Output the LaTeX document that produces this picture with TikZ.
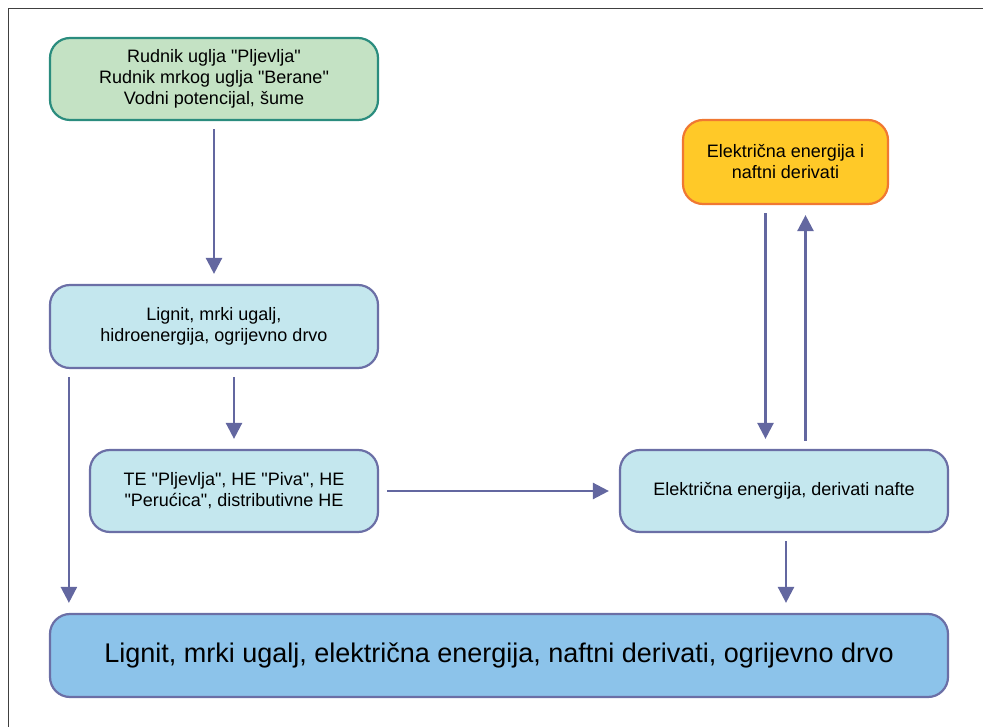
\documentclass[tikz,border=0pt]{standalone}
\usepackage{fontspec}
\setmainfont{Liberation Sans}[Ligatures=TeXOff]
\usepackage{xcolor}
\usetikzlibrary{positioning,calc,arrows.meta}

\definecolor{srcfill}{HTML}{C4E2C4}
\definecolor{srcline}{HTML}{2A8C7E}
\definecolor{impfill}{HTML}{FFC928}
\definecolor{impline}{HTML}{F07832}
\definecolor{boxfill}{HTML}{C4E7EE}
\definecolor{boxline}{HTML}{6B6FA6}
\definecolor{endfill}{HTML}{8CC3EA}
\definecolor{flowcol}{HTML}{6367A0}

\tikzset{
  block/.style={rectangle, rounded corners=20pt, line width=2.2pt, draw=boxline, fill=boxfill,
    align=center, inner sep=0pt, font=\fontsize{18}{21}\selectfont},
  flow/.style={-{Triangle[length=16pt,width=16pt]}, line width=2.5pt, draw=flowcol,
    shorten <=8pt, shorten >=10pt}
}

\begin{document}
\begin{tikzpicture}[x=1pt,y=-1pt]
    \useasboundingbox (0,0) rectangle (983,727);

    % Frame
    \draw[black!75, line width=1pt] (983,9) -- (8,9) -- (8,727);

    % Boxes
    \node [block, draw=srcline, fill=srcfill, minimum width=328pt, minimum height=82pt] (izvori) at (214,79)
        {Rudnik uglja "Pljevlja"\\Rudnik mrkog uglja "Berane"\\Vodni potencijal, šume};
    \node [block, draw=impline, fill=impfill, minimum width=205pt, minimum height=84pt] (uvoz) at (785.5,162)
        {Električna energija i\\naftni derivati};
    \node [block, minimum width=328pt, minimum height=83pt] (primarna) at (214,326.5)
        {Lignit, mrki ugalj,\\hidroenergija, ogrijevno drvo};
    \node [block, minimum width=288pt, minimum height=82pt] (postrojenja) at (234,491)
        {TE "Pljevlja", HE "Piva", HE\\"Perućica", distributivne HE};
    \node [block, minimum width=328pt, minimum height=82pt] (sekundarna) at (784,491)
        {Električna energija, derivati nafte};
    \node [block, fill=endfill, minimum width=898pt, minimum height=83pt,
        font=\fontsize{27}{32}\selectfont] (potrosnja) at (499,655.5)
        {Lignit, mrki ugalj, električna energija, naftni derivati, ogrijevno drvo};

    % Arrows
    \draw [flow] (izvori.south) -- (primarna.north);
    \draw [flow] (postrojenja.north |- primarna.south) -- (postrojenja.north);
    \draw [flow] ([xshift=20pt]primarna.south west) -- ([xshift=20pt]primarna.south west |- potrosnja.north);
    \draw [flow] (postrojenja.east) -- (sekundarna.west);
    \draw [flow] ([xshift=-20pt]uvoz.south) -- ([xshift=-20pt]uvoz.south |- sekundarna.north);
    \draw [flow] ([xshift=20pt]uvoz.south |- sekundarna.north) -- ([xshift=20pt]uvoz.south);
    \draw [flow] ([xshift=2pt]sekundarna.south) -- ([xshift=2pt]sekundarna.south |- potrosnja.north);

\end{tikzpicture}
\end{document}
